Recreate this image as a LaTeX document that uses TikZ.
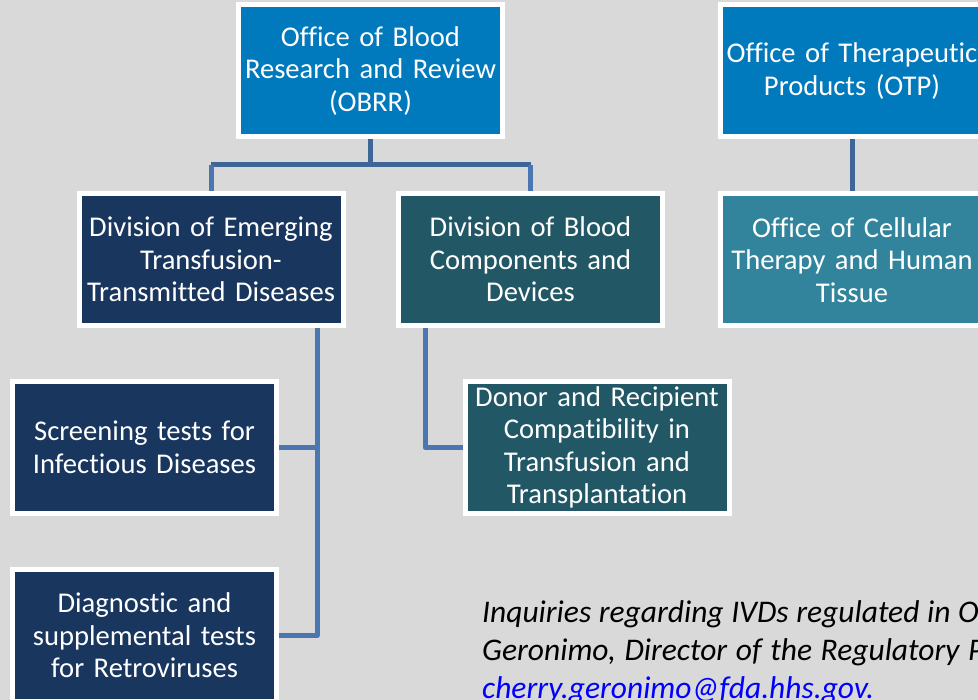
\documentclass[tikz,border=0pt]{standalone}
\usepackage{fontspec}
\setmainfont{Carlito}[Ligatures={NoCommon}]
\usetikzlibrary{backgrounds}

\definecolor{pagegray}{RGB}{217,217,217}
\definecolor{officeblue}{RGB}{0,121,189}
\definecolor{navybox}{RGB}{25,54,94}
\definecolor{tealdark}{RGB}{34,88,102}
\definecolor{tealmid}{RGB}{49,132,155}
\definecolor{linktop}{RGB}{64,102,152}
\definecolor{linklow}{RGB}{74,119,178}
\definecolor{mailblue}{RGB}{0,0,255}

\tikzset{
  orgbox/.style={rectangle, draw=white, line width=5pt, text=white,
    minimum width=264pt, minimum height=132pt, inner sep=0pt,
    text width=262pt, align=center,
    font=\fontsize{28.6}{32.5}\selectfont},
  officebox/.style={orgbox, fill=officeblue},
  navyunit/.style={orgbox, fill=navybox},
  tealunit/.style={orgbox, fill=tealdark},
  cellunit/.style={orgbox, fill=tealmid},
  linkhi/.style={draw=linktop, line width=5pt, line join=round},
  linklo/.style={draw=linklow, line width=5pt, line join=round},
  notetext/.style={anchor=base west, inner sep=0pt,
    font=\fontsize{31.5}{36}\selectfont\itshape\frenchspacing}
}

\begin{document}
\begin{tikzpicture}[x=1pt, y=-1pt]
  \useasboundingbox (0,0) rectangle (978,700);

  % offices
  \node[officebox] (obrr) at (370.5,71) {Office of Blood\\Research and Review\\(OBRR)};
  \node[officebox] (otp)  at (852,71)   {Office of Therapeutic\\Products (OTP)};

  % divisions
  \node[navyunit] (dett) at (211,259.5)   {Division of Emerging\\Transfusion-\\Transmitted Diseases};
  \node[tealunit] (dbcd) at (530.5,259.5) {Division of Blood\\Components and\\Devices};
  \node[cellunit] (ocht) at (852,260)     {Office of Cellular\\Therapy and Human\\Tissue};

  % programs
  \node[navyunit] (scr)   at (144.5,447.5) {Screening tests for\\Infectious Diseases};
  \node[tealunit] (donor) at (597,447.5)   {Donor and Recipient\\Compatibility in\\Transfusion and\\Transplantation};
  \node[navyunit] (diag)  at (144.5,635.5) {Diagnostic and\\supplemental tests\\for Retroviruses};

  % contact note (justified lines, so the word gaps are spread)
  \node[notetext] (note1) at (482,622)
    {\makebox[476pt][s]{Inquiries regarding IVDs regulated in\ }OBRR};
  \node[notetext] (note2) at (482,660)
    {\makebox[486pt][s]{Geronimo, Director of the Regulatory\ }Project};
  \node[notetext, text=mailblue] (note3) at (482,698) {cherry.geronimo@fda.hhs.gov.};

  % connector trunks
  \coordinate (hub)    at (370.5,165);
  \coordinate (trunkA) at (317,0);
  \coordinate (trunkB) at (425,0);

  \begin{pgfonlayer}{background}
    \fill[pagegray] (0,0) rectangle (978,700);
    \path[linkhi] (obrr.south) -- (hub);
    \path[linkhi] (hub -| dett.north) -- (hub -| dbcd.north);
    \path[linklo] (hub -| dett.north) -- (dett.north);
    \path[linklo] (hub -| dbcd.north) -- (dbcd.north);
    \path[linkhi] (otp.south) -- (ocht.north);
    \path[linklo] (dett.south -| trunkA) |- (diag.east);
    \path[linklo] (scr.east) -- (scr.east -| trunkA);
    \path[linklo] (dbcd.south -| trunkB) |- (donor.west);
  \end{pgfonlayer}
\end{tikzpicture}
\end{document}
